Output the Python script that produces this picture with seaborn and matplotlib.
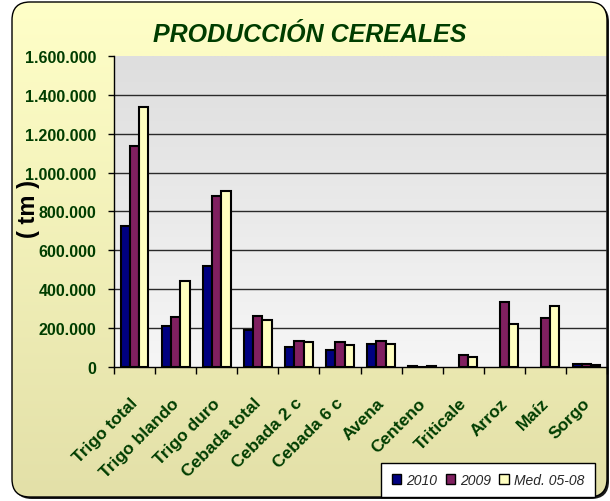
import numpy as np
import pandas as pd
import matplotlib
matplotlib.use("Agg")
import matplotlib.pyplot as plt
import matplotlib.transforms as mtransforms
from matplotlib.patches import FancyBboxPatch, Patch
from matplotlib.ticker import FuncFormatter, FixedLocator
import seaborn as sns

# ---------------- data ----------------
categories = ["Trigo total", "Trigo blando", "Trigo duro", "Cebada total",
              "Cebada 2 c", "Cebada 6 c", "Avena", "Centeno", "Triticale",
              "Arroz", "Maíz", "Sorgo"]
series_names = ["2010", "2009", "Med. 05-08"]
v2010 = [723000, 209000, 521000, 190000, 101000, 87000, 118000, 3000,
         np.nan, np.nan, np.nan, 14000]
v2009 = [1135000, 259000, 881000, 260000, 132000, 127000, 134000, 2000,
         63000, 333000, 254000, 17000]
vmed = [1338000, 441000, 905000, 243000, 129000, 113000, 120000, 3000,
        53000, 223000, 312000, 10000]
yticks = [0, 200000, 400000, 600000, 800000, 1000000, 1200000, 1400000, 1600000]
title = "PRODUCCIÓN CEREALES"
ylabel = "( tm )"

colors = ["#000080", "#802060", "#FFFFC0"]
green = "#003d00"

df = pd.DataFrame({
    "cat": categories * 3,
    "serie": [s for s in series_names for _ in categories],
    "value": v2010 + v2009 + vmed,
})

sns.set_style("white")
plt.rcParams["font.family"] = ["Liberation Sans", "DejaVu Sans"]

W, H = 610, 502
fig = plt.figure(figsize=(W / 100, H / 100), dpi=100)
fig.patch.set_facecolor("white")

# ---------------- background (frame + plot area) ----------------
bg = fig.add_axes([0, 0, 1, 1])
bg.set_xlim(0, W)
bg.set_ylim(H, 0)
bg.axis("off")
bg.set_zorder(0)

fx0, fy0, fx1, fy1 = 12, 3, 607, 498
shadow = FancyBboxPatch((fx0 + 2, fy0 + 2), fx1 - fx0, fy1 - fy0,
                        boxstyle="round,pad=0,rounding_size=18",
                        facecolor="#1a1a1a", edgecolor="none", zorder=1)
bg.add_patch(shadow)
frame = FancyBboxPatch((fx0, fy0), fx1 - fx0, fy1 - fy0,
                       boxstyle="round,pad=0,rounding_size=18",
                       facecolor="none", edgecolor="black", linewidth=1.0, zorder=4)
top_c = np.array([255, 255, 200]) / 255
bot_c = np.array([227, 224, 168]) / 255
t = np.linspace(0, 1, 256)[:, None, None]
grad = top_c[None, None, :] * (1 - t) + bot_c[None, None, :] * t
im = bg.imshow(grad, extent=(fx0, fx1, fy1, fy0), aspect="auto", zorder=2,
               interpolation="bilinear")
clip = FancyBboxPatch((fx0, fy0), fx1 - fx0, fy1 - fy0,
                      boxstyle="round,pad=0,rounding_size=18",
                      facecolor="none", edgecolor="none", transform=bg.transData)
bg.add_patch(clip)
im.set_clip_path(clip)
bg.add_patch(frame)

px0, py0, px1, py1 = 114, 57, 607, 368
ptop = np.array([222, 222, 222]) / 255
pbot = np.array([246, 246, 246]) / 255
grad2 = ptop[None, None, :] * (1 - t) + pbot[None, None, :] * t
bg.imshow(grad2, extent=(px0, px1, py1, py0), aspect="auto", zorder=3,
          interpolation="bilinear")
bg.set_xlim(0, W)
bg.set_ylim(H, 0)

# ---------------- main axes ----------------
ax = fig.add_axes([px0 / W, (H - py1) / H, (px1 - px0) / W, (py1 - py0) / H])
ax.set_zorder(1)
ax.patch.set_alpha(0)

sns.barplot(data=df, x="cat", y="value", hue="serie", order=categories,
            hue_order=series_names, palette=colors, saturation=1,
            width=0.678, edgecolor="black", linewidth=1.5, errorbar=None,
            legend=False, ax=ax, zorder=3)

ax.set_xlim(-0.5, len(categories) - 0.5)
ax.set_ylim(yticks[0], yticks[-1])
ax.hlines(yticks[1:-1], -0.5, len(categories) - 0.5, colors="#2a2a2a",
          linewidth=1.0, zorder=1)

for s in ["top", "right"]:
    ax.spines[s].set_visible(False)
for s in ["left", "bottom"]:
    ax.spines[s].set_color("black")
    ax.spines[s].set_linewidth(1.0)
    ax.spines[s].set_zorder(5)

ax.set_yticks(yticks)
ax.yaxis.set_major_formatter(FuncFormatter(lambda v, p: f"{v:,.0f}".replace(",", ".")))
ax.tick_params(axis="y", direction="out", length=4, width=1, color="black",
               pad=8.5, labelsize=11.5, labelcolor=green, left=True)
for lab in ax.get_yticklabels():
    lab.set_fontweight("bold")

ax.set_xticks(range(len(categories)))
ax.xaxis.set_minor_locator(FixedLocator(np.arange(-0.5, len(categories), 1.0)))
ax.tick_params(axis="x", which="major", length=0, pad=24)
ax.tick_params(axis="x", which="minor", direction="out", length=5, width=1,
               color="black", bottom=True)
ax.set_xticklabels(categories, rotation=45, ha="right", va="center",
                   rotation_mode="anchor", fontsize=12.5, fontweight="bold",
                   color=green)
offset = mtransforms.ScaledTranslation(1 / 100, 0, fig.dpi_scale_trans)
for lab in ax.get_xticklabels():
    lab.set_transform(lab.get_transform() + offset)

ax.set_xlabel("")
ax.set_ylabel(ylabel, fontsize=17, fontweight="bold", color="black")
ax.yaxis.set_label_coords(-0.150, 0.51)

fig.text(310 / W, 1 - 35 / H, title, ha="center", va="center",
         fontsize=18, fontweight="bold", fontstyle="italic", color=green)

handles = [Patch(facecolor=c, edgecolor="black", linewidth=1.0) for c in colors]
leg = fig.legend(handles, series_names, loc="center",
                 bbox_to_anchor=(488 / W, 1 - 481 / H), ncol=3,
                 frameon=True, fancybox=False, framealpha=1,
                 edgecolor="black", facecolor="white",
                 prop={"size": 10, "style": "italic"},
                 handlelength=0.7, handleheight=0.7, handletextpad=0.35,
                 columnspacing=0.6, borderpad=0.75, borderaxespad=0)
leg.get_frame().set_linewidth(1.0)
leg.set_zorder(10)

fig.savefig("out.png", dpi=100)
